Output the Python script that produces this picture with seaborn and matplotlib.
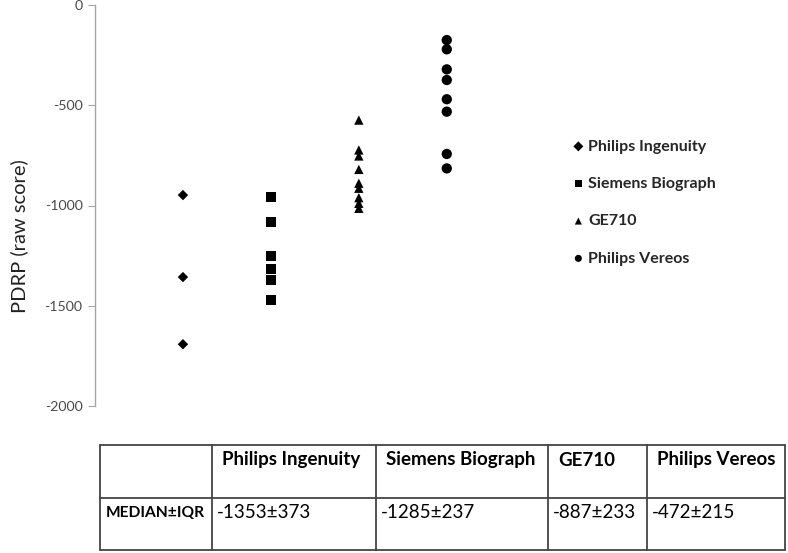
import matplotlib
matplotlib.use("Agg")
import matplotlib.pyplot as plt
import pandas as pd
import seaborn as sns

# values
scanners = ["Philips Ingenuity", "Siemens Biograph", "GE710", "Philips Vereos"]
ingenuity = [-948, -1357, -1692]
biograph = [-959, -1081, -1252, -1318, -1372, -1471]
ge710 = [-574, -723, -753, -820, -889, -914, -961, -989, -1014]
vereos = [-175, -221, -321, -374, -470, -532, -743, -815]
median_iqr = ["-1353\u00b1373", "-1285\u00b1237", "-887\u00b1233", "-472\u00b1215"]
row_label = "MEDIAN\u00b1IQR"

df = pd.DataFrame({
    "scanner": [scanners[0]] * len(ingenuity) + [scanners[1]] * len(biograph)
    + [scanners[2]] * len(ge710) + [scanners[3]] * len(vereos),
    "pdrp": ingenuity + biograph + ge710 + vereos,
})

sns.set_style("white")
plt.rcParams["font.family"] = ["Lato", "DejaVu Sans"]
plt.rcParams["axes.unicode_minus"] = False

fig = plt.figure(figsize=(7.88, 5.53), dpi=100)
ax = fig.add_axes([95 / 788, 1 - 406 / 553, 445 / 788, 401 / 553])

markers = {scanners[0]: "D", scanners[1]: "s", scanners[2]: "^", scanners[3]: "o"}
sizes = {scanners[0]: 28, scanners[1]: 55, scanners[2]: 45, scanners[3]: 55}
for s in scanners:
    sub = df[df.scanner == s]
    sns.scatterplot(data=sub, x="scanner", y="pdrp", marker=markers[s], s=sizes[s],
                    color="black", edgecolor="none", ax=ax, label=s, legend=False)

ax.set_xlim(-1, 4.06)
ax.set_ylim(-2000, 0)
ax.set_yticks([0, -500, -1000, -1500, -2000])
ax.set_xticks([])
ax.set_xlabel("")
ax.set_ylabel("")
for side in ["top", "right", "bottom"]:
    ax.spines[side].set_visible(False)
ax.spines["left"].set_color("#a6a6a6")
ax.spines["left"].set_linewidth(1)
ax.tick_params(axis="y", left=True, length=5, color="#a6a6a6", labelsize=10.2,
               labelcolor="#4a4a4a", pad=4)

fig.text(19 / 788, 1 - 236 / 553, "PDRP (raw score)", rotation=90, ha="center",
         va="center", fontsize=14.5, color="#222222")

handles, labels = ax.get_legend_handles_labels()
leg = fig.legend(handles, labels, loc="upper left", bbox_to_anchor=(556 / 788, 1 - 125 / 553),
                 frameon=False, handletextpad=0.1, labelspacing=1.45, handlelength=1.0,
                 prop={"weight": "bold", "size": 11.5})
for h in leg.legend_handles:
    h.set_sizes([26])

# table under the chart
tab = fig.add_axes([0, 0, 1, 1])
tab.set_xlim(0, 788)
tab.set_ylim(553, 0)
tab.axis("off")
col_edges = [100, 212, 376, 548, 647, 785]
row_edges = [445, 498, 550]
for y in row_edges:
    tab.plot([col_edges[0], col_edges[-1]], [y, y], color="#444444", lw=1.3)
for x in col_edges:
    tab.plot([x, x], [row_edges[0], row_edges[-1]], color="#444444", lw=1.3)
for i, name in enumerate(scanners):
    tab.text(col_edges[i + 1] + 10, 460, name, ha="left", va="center",
             fontsize=13.5, fontweight="bold", color="black")
    tab.text(col_edges[i + 1] + 5, 513, median_iqr[i], ha="left", va="center",
             fontsize=13.5, color="black")
tab.text(col_edges[0] + 6, 513, row_label, ha="left", va="center",
         fontsize=11.2, fontweight="bold", color="black")

fig.savefig("out.png", dpi=100)
